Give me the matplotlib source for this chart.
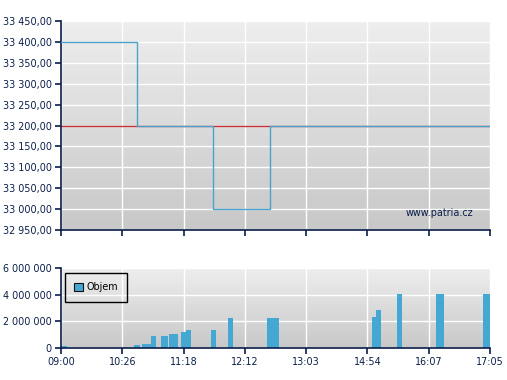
import matplotlib
matplotlib.use("Agg")
import matplotlib.pyplot as plt
import numpy as np
from matplotlib.patches import Patch
from matplotlib.ticker import FuncFormatter
from matplotlib.colors import LinearSegmentedColormap

# ---- data ----
tick_labels = ['09:00', '10:26', '11:18', '12:12', '13:03', '14:54', '16:07', '17:05']
price_x = [0.0, 1.24, 2.48, 3.405, 7.0]
price_y = [33400, 33200, 33000, 33200, 33200]
ref_price = 33200
vol_x = [0.0, 1.191, 1.322, 1.469, 1.632, 1.762, 1.958, 2.040, 2.448, 2.725,
         3.361, 5.075, 5.140, 5.482, 6.119, 6.886]
vol_w = [0.106, 0.098, 0.147, 0.082, 0.114, 0.147, 0.082, 0.082, 0.082, 0.082,
         0.196, 0.065, 0.082, 0.082, 0.131, 0.114]
vol_y = [160000, 200000, 300000, 900000, 900000, 1050000, 1200000, 1360000, 1360000, 2260000,
         2260000, 2360000, 2890000, 4100000, 4100000, 4100000]
price_ticks = [32950, 33000, 33050, 33100, 33150, 33200, 33250, 33300, 33350, 33400, 33450]
vol_ticks = [0, 2000000, 4000000, 6000000]

NAVY = '#0a1e4a'
FS = 6.9
plt.rcParams['font.family'] = ['DejaVu Sans']

fig = plt.figure(figsize=(5.07, 3.80), dpi=100)
ax1 = fig.add_axes([61/507, 1-230/380, 429/507, 209/380])
ax2 = fig.add_axes([61/507, 1-348/380, 429/507, 79.7/380])

grad = np.linspace(0, 1, 256).reshape(-1, 1)
cmap = LinearSegmentedColormap.from_list('g', ['#c8c8c8', '#eeeeee'])

def style(ax):
    ax.imshow(grad, extent=[0, 1, 0, 1], transform=ax.transAxes, cmap=cmap,
              origin='lower', aspect='auto', zorder=0)
    ax.set_axisbelow(True)
    ax.grid(True, color='white', linewidth=1.0)
    for s in ['top', 'right']:
        ax.spines[s].set_visible(False)
    for s in ['left', 'bottom']:
        ax.spines[s].set_color(NAVY)
        ax.spines[s].set_linewidth(1.2)
    ax.tick_params(colors=NAVY, labelcolor=NAVY, length=4, width=1.2, labelsize=FS, pad=2.5)
    ax.set_xlim(0, 7)
    ax.set_xticks(range(len(tick_labels)))

# top price chart
style(ax1)
ax1.axhline(ref_price, color='#c83232', linewidth=1.0, zorder=2)
ax1.plot(price_x, price_y, drawstyle='steps-post', color='#4ba2ca', linewidth=1.0, zorder=3)
ax1.set_ylim(32950, 33450)
ax1.set_yticks(price_ticks)
ax1.yaxis.set_major_formatter(FuncFormatter(
    lambda v, p: f"{v:,.2f}".replace(',', ' ').replace('.', ',')))
ax1.set_xticklabels([])
ax1.text(0.960, 0.081, 'www.patria.cz', transform=ax1.transAxes, ha='right', va='center',
         color=NAVY, fontsize=FS)

# bottom volume chart
style(ax2)
ax2.bar(vol_x, vol_y, width=vol_w, align='edge', color='#45a8d2', zorder=2)
ax2.set_ylim(0, 6000000)
ax2.set_yticks(vol_ticks)
ax2.yaxis.set_major_formatter(FuncFormatter(lambda v, p: f"{int(v):,}".replace(',', ' ')))
ax2.set_xticklabels(tick_labels)
leg = ax2.legend(handles=[Patch(facecolor='#45a8d2', edgecolor='#111111', linewidth=0.8, label='Objem')],
                 loc='upper left', bbox_to_anchor=(0.0093, 0.937), borderaxespad=0,
                 fancybox=False, framealpha=1, facecolor='none', edgecolor='black', fontsize=FS,
                 handlelength=0.9, handleheight=0.9, handletextpad=0.4,
                 borderpad=0.95, labelcolor='black')
leg.get_frame().set_linewidth(1.0)

fig.savefig('out.png', dpi=100)
